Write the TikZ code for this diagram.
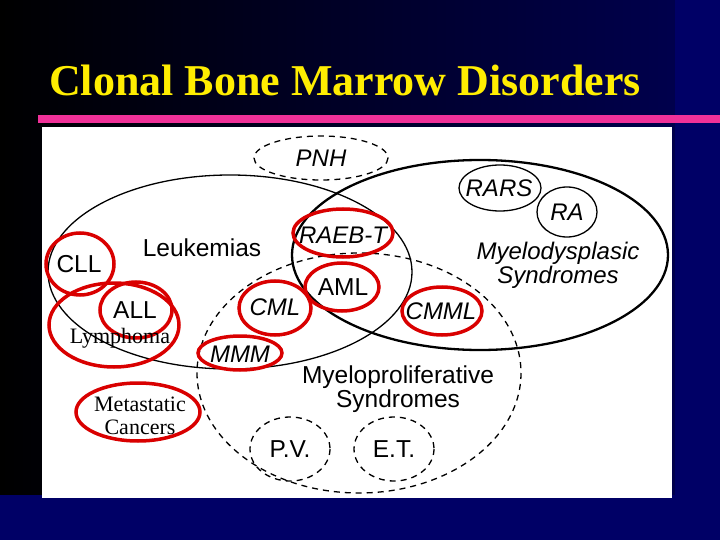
\documentclass[tikz,border=0pt]{standalone}
\usepackage{fontspec}
\setmainfont{Liberation Serif}
\newfontfamily\sansf{Liberation Sans}
\begin{document}
\begin{tikzpicture}[x=1pt,y=-1pt,
  blk/.style={draw=black,line width=1.3pt},
  dsh/.style={draw=black,line width=1.3pt,dash pattern=on 6pt off 5pt},
  red/.style={draw=red!85!black,line width=3.5pt},
  lbl/.style={font=\sansf\fontsize{24.5}{24}\selectfont,align=center,inner sep=0pt},
  ilbl/.style={font=\sansf\itshape\fontsize{24}{24}\selectfont,align=center,inner sep=0pt},
  slbl/.style={font=\fontsize{22}{23}\selectfont,align=center,inner sep=0pt}]
\useasboundingbox (0,0) rectangle (720,540);
\shade[left color=black,right color=black!50!blue!60!black] (0,0) rectangle (675,495);
\fill[blue!40!black] (675,0) rectangle (720,540);
\fill[blue!40!black] (0,495) rectangle (720,540);
\node[font=\bfseries\fontsize{44}{46}\selectfont,text=yellow!95!orange] (title) at (345,80) {Clonal Bone Marrow Disorders};
\fill[magenta!75!pink] (38,115) rectangle (720,123);
\fill[white] (42,127) rectangle (672,498);
% big sets
\draw[dsh] (321,158) ellipse [x radius=67,y radius=22];
\node[ilbl] (pnh) at (321,158) {PNH};
\draw[blk] (230,272) ellipse [x radius=182,y radius=97];
\draw[blk,line width=2.3pt] (480,255) ellipse [x radius=188,y radius=95];
\draw[dsh] (359,373) ellipse [x radius=162,y radius=120];
\node[lbl] (leuk) at (202,248) {Leukemias};
\node[ilbl] (mds) at (558,265) {Myelodysplasic\\Syndromes};
\node[lbl] (mps) at (398,389) {Myeloproliferative\\Syndromes};
% small sets
\draw[blk] (500,188) ellipse [x radius=41,y radius=23];
\node[ilbl] (rars) at (499,188) {RARS};
\draw[blk] (567,212) ellipse [x radius=30,y radius=25];
\node[ilbl] (ra) at (567,212) {RA};
\draw[dsh] (290,449) ellipse [x radius=40,y radius=32];
\node[lbl] (pv) at (290,449) {P.V.};
\draw[dsh] (394,449) ellipse [x radius=40,y radius=32];
\node[lbl] (et) at (394,449) {E.T.};
% red marked
\draw[red] (343,233) ellipse [x radius=50,y radius=24];
\node[ilbl] (raeb) at (343,235) {RAEB-T};
\draw[red] (342,287) ellipse [x radius=37,y radius=24];
\node[lbl] (aml) at (343,287) {AML};
\draw[red] (275,308) ellipse [x radius=36,y radius=27];
\node[ilbl] (cml) at (275,307) {CML};
\draw[red] (442,311) ellipse [x radius=40,y radius=24];
\node[ilbl] (cmml) at (441,311) {CMML};
\draw[red] (240,353) ellipse [x radius=42,y radius=17];
\node[ilbl] (mmm) at (240,354) {MMM};
\draw[red] (80,264) ellipse [x radius=34,y radius=31];
\node[lbl] (cll) at (79,264) {CLL};
\draw[red] (136,310) ellipse [x radius=36,y radius=28];
\node[lbl] (all) at (135,310) {ALL};
\draw[red] (114,325) ellipse [x radius=65,y radius=42];
\node[slbl] (lym) at (120,338) {Lymphoma};
\draw[red] (138,412) ellipse [x radius=62,y radius=29];
\node[slbl] (met) at (140,416) {Metastatic\\Cancers};
\end{tikzpicture}
\end{document}
